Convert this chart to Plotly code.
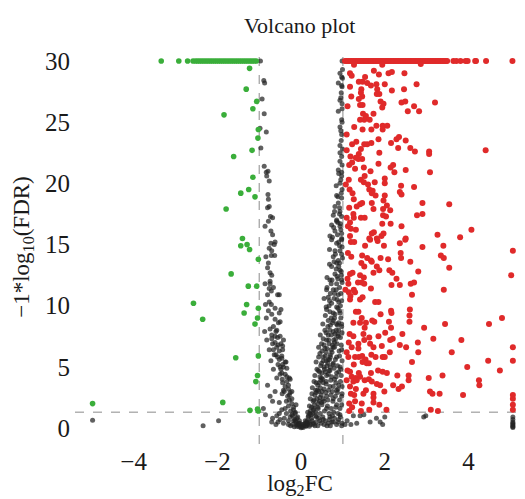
import plotly.graph_objects as go
import math

# ---------------- data ----------------
fc_cut = 1.0
fdr_cut = 0.05

# significant up (red)
red_top_x = [1.05, 1.09, 1.13, 1.17, 1.21, 1.25, 1.29, 1.33, 1.37, 1.41, 1.45, 1.49, 1.53, 1.57,
             1.61, 1.65, 1.69, 1.73, 1.77, 1.81, 1.85, 1.89, 1.93, 1.97, 2.01, 2.05, 2.09, 2.13,
             2.17, 2.21, 2.25, 2.29, 2.33, 2.37, 2.41, 2.45, 2.49, 2.53, 2.57, 2.61, 2.65, 2.69,
             2.73, 2.77, 2.81, 2.85, 2.89, 2.93, 2.97, 3.01, 3.05, 3.09, 3.13, 3.17, 3.21, 3.25,
             3.29, 3.33, 3.37, 3.41, 3.45, 3.49, 3.64, 3.71, 3.81, 3.93, 3.98, 4.16, 4.18, 4.42, 5.05]
red_x = [1.265, 1.94, 2.86, 1.17, 1.21, 1.74, 1.53, 1.86, 2.09, 2.17, 2.47, 1.17, 1.38, 1.47, 1.58,
         1.67, 1.80, 2.00, 2.76, 1.44, 1.82, 2.17, 2.46, 1.43, 1.81, 1.87, 1.20, 1.46, 1.38, 1.90,
         1.97, 2.40, 2.49, 3.20, 1.11, 1.41, 1.47, 1.94, 2.70, 2.55, 2.82, 1.48, 1.73, 1.55, 1.41,
         1.51, 1.64, 1.27, 1.47, 1.68, 1.80, 1.95, 2.06, 1.95, 1.09, 2.28, 2.34, 2.50, 1.85, 1.32,
         1.22, 1.51, 1.58, 1.68, 2.15, 2.32, 2.61, 2.72, 3.06, 3.06, 4.41, 1.09, 1.43, 1.38, 1.87,
         1.18, 1.31, 1.37, 1.46, 1.22, 1.15, 1.29, 1.50, 1.85, 2.20, 2.14, 2.50, 2.23, 1.66, 3.08,
         1.14, 1.52, 1.43, 1.50, 1.60, 1.76, 2.00, 2.00, 2.39, 2.70, 1.07, 1.16, 1.63, 1.71, 1.69,
         1.23, 2.36, 2.40, 2.00, 1.78, 1.26, 1.46, 1.41, 1.69, 1.97, 2.05, 2.90, 3.54, 1.15, 1.33,
         1.73, 1.96, 2.13, 1.25, 1.09, 1.26, 1.43, 1.52, 1.96, 2.03, 2.77, 2.90, 1.17, 1.94, 2.14,
         2.40, 1.12, 1.19, 1.31, 1.74, 1.69, 1.97, 3.26, 3.80, 4.07, 2.50, 1.17, 1.81, 1.92, 1.63,
         1.19, 1.27, 1.53, 1.65, 1.83, 1.98, 2.36, 2.49, 2.90, 3.40, 3.34, 3.41, 5.06, 1.12, 1.20,
         1.46, 1.44, 1.58, 1.67, 1.69, 1.90, 2.08, 2.38, 2.39, 2.61, 1.51, 1.81, 1.73, 1.87, 2.11,
         2.18, 2.80, 3.54, 1.17, 1.23, 1.11, 1.41, 1.50, 2.28, 1.13, 1.36, 1.45, 1.51, 1.67, 2.16,
         2.36, 2.62, 2.70, 5.02, 1.06, 1.14, 1.26, 1.18, 1.47, 1.41, 1.17, 1.29, 1.77, 1.85, 3.41,
         2.65, 1.31, 1.37, 1.90, 2.15, 2.16, 2.60, 2.59, 2.59, 1.25, 1.45, 1.41, 1.70, 1.75, 1.55,
         2.10, 3.44, 4.49, 4.80, 1.52, 2.15, 2.94, 1.16, 1.25, 1.49, 1.63, 1.85, 2.01, 2.13, 2.19,
         2.42, 3.16, 3.83, 1.14, 1.37, 1.21, 1.37, 1.51, 1.65, 1.73, 1.93, 2.36, 2.51, 2.79, 2.80,
         2.12, 3.60, 5.06, 5.06, 1.09, 1.13, 1.29, 1.38, 1.46, 1.54, 1.68, 1.78, 1.95, 2.00, 1.47,
         1.57, 1.62, 1.26, 2.65, 4.47, 3.97, 4.75, 1.11, 1.17, 1.38, 1.67, 1.84, 1.95, 2.05, 2.30,
         2.57, 2.57, 3.05, 3.38, 4.25, 4.26, 1.21, 1.31, 1.41, 1.09, 1.25, 1.33, 1.52, 1.62, 1.69,
         1.81, 1.89, 2.20, 2.33, 2.41, 3.08, 3.14, 3.31, 3.87, 1.17, 1.31, 1.55, 1.19, 1.27, 1.49,
         1.73, 1.99, 1.73, 1.73, 1.87, 1.29, 1.15, 1.45, 1.22, 1.15, 1.43, 1.63, 2.04, 3.10, 3.27,
         5.06, 5.06, 5.06, 5.06]
red_y = [29.7, 29.7, 29.75, 29.0, 28.8, 29.2, 28.7, 28.9, 29.0, 29.1, 29.0, 27.9, 28.3, 28.3, 28.2,
         28.0, 28.1, 28.1, 28.1, 27.7, 27.7, 27.6, 27.7, 27.4, 27.3, 27.3, 27.1, 27.1, 26.9, 26.7,
         26.5, 26.6, 26.7, 26.6, 26.3, 26.4, 26.4, 26.2, 26.3, 25.9, 25.9, 25.7, 25.7, 25.5, 25.2,
         25.2, 25.2, 24.6, 24.4, 24.4, 24.7, 24.7, 24.7, 24.4, 24.0, 23.6, 23.8, 23.5, 23.6, 23.4,
         23.2, 23.2, 23.2, 23.3, 23.3, 22.9, 22.9, 22.6, 22.6, 22.4, 22.7, 22.7, 22.8, 22.4, 22.5,
         22.2, 22.1, 22.0, 22.0, 21.7, 21.5, 21.2, 21.3, 21.6, 21.5, 21.3, 21.1, 20.9, 21.0, 20.9,
         20.3, 20.6, 20.3, 20.1, 19.9, 20.1, 20.4, 20.0, 19.8, 19.7, 19.9, 19.5, 19.5, 19.4, 19.2,
         19.2, 19.3, 19.1, 19.0, 19.0, 18.7, 18.4, 18.3, 18.4, 18.6, 18.2, 18.4, 18.3, 18.0, 18.1,
         17.9, 17.9, 17.8, 17.5, 17.2, 17.2, 17.2, 17.2, 17.4, 17.3, 17.4, 17.5, 16.8, 16.7, 16.7,
         16.5, 16.5, 16.3, 16.2, 16.0, 15.9, 15.9, 15.8, 15.6, 16.2, 15.5, 15.7, 15.5, 15.7, 15.5,
         15.2, 15.2, 14.9, 15.4, 15.3, 14.9, 15.1, 15.4, 14.8, 14.9, 14.1, 13.9, 14.5, 14.3, 14.0,
         14.1, 13.5, 13.9, 13.7, 13.6, 13.9, 13.8, 14.3, 13.9, 13.6, 13.2, 13.2, 12.7, 12.9, 12.9,
         12.7, 12.8, 13.1, 12.6, 12.7, 12.2, 12.5, 12.3, 12.2, 11.8, 11.9, 11.9, 11.8, 11.4, 11.7,
         11.7, 11.8, 11.9, 12.5, 11.3, 11.1, 11.3, 10.8, 10.7, 10.5, 10.5, 11.1, 10.3, 10.3, 11.3,
         10.9, 9.5, 9.5, 9.3, 9.6, 9.4, 9.7, 9.2, 8.7, 8.6, 9.0, 8.6, 8.8, 8.7, 8.6,
         8.7, 8.5, 8.5, 9.0, 8.2, 8.2, 8.2, 7.7, 7.5, 7.7, 7.4, 7.5, 7.8, 7.2, 7.3,
         7.7, 7.3, 7.2, 7.0, 6.9, 6.6, 6.5, 7.2, 6.9, 6.6, 6.7, 6.8, 6.6, 7.0, 6.2,
         6.2, 6.2, 6.6, 5.5, 6.2, 5.8, 5.8, 5.8, 5.9, 5.6, 6.0, 5.8, 5.8, 5.8, 5.4,
         5.3, 5.3, 5.2, 5.4, 5.5, 5.0, 4.7, 4.7, 4.6, 4.5, 4.5, 4.7, 4.6, 4.5, 4.3,
         4.3, 3.9, 4.1, 4.3, 3.9, 3.5, 4.2, 4.1, 4.2, 3.9, 3.8, 3.9, 3.9, 4.0, 3.8,
         3.6, 3.5, 3.5, 3.2, 3.4, 3.0, 2.8, 2.8, 2.7, 3.4, 3.2, 3.1, 2.8, 2.7, 2.8,
         2.8, 3.0, 2.5, 2.1, 1.9, 2.2, 2.0, 2.0, 1.7, 1.4, 1.4, 1.5, 1.5, 1.5, 1.4,
         2.7, 2.4, 1.9, 1.5]

# significant down (green)
green_top_x = [-3.34, -2.92, -2.71, -2.58, -2.52, -2.47, -2.42, -2.37, -2.32, -2.27, -2.22, -2.17,
               -2.12, -2.07, -2.02, -1.97, -1.92, -1.87, -1.82, -1.77, -1.72, -1.67, -1.62, -1.57,
               -1.52, -1.47, -1.42, -1.37, -1.32, -1.27, -1.22, -1.17, -1.12, -1.07]
green_x = [-1.23, -1.31, -1.06, -1.15, -1.84, -1.02, -1.03, -1.17, -1.61, -1.15, -1.44, -1.25, -1.10,
           -1.79, -1.40, -1.44, -1.29, -1.23, -1.02, -1.67, -1.26, -1.06, -2.57, -1.30, -1.02,
           -1.36, -2.35, -1.04, -1.10, -1.56, -1.02, -1.04, -1.08, -4.98, -1.87, -1.22, -1.04, -1.02]
green_y = [29.4, 27.7, 26.7, 26.1, 25.6, 24.4, 23.7, 22.7, 22.2, 20.5, 19.2, 19.5, 18.9,
           17.9, 15.5, 14.9, 15.0, 14.6, 13.8, 12.6, 11.6, 11.6, 10.2, 10.1, 9.8,
           9.4, 8.9, 9.0, 8.5, 5.75, 5.9, 4.3, 3.8, 2.0, 2.1, 1.45, 1.55, 1.4]

# not significant (grey)
grey_x = [-0.97, 0.98, -0.89, -0.87, -0.93, -0.88, -0.98, -0.83, -0.96, -0.88, -0.83, -0.79, -0.82,
          -0.76, -0.79, -0.78, -0.76, -0.73, -0.78, -0.68, -0.72,
          -0.68, -0.72, -0.64, -0.62, -0.76, -0.84, -0.71, -0.63, -0.80, -0.74, -0.70, -0.86, -0.74,
          -0.76, -0.71, -0.80, -0.56, -0.52, -0.76, -0.71, -0.85, -0.48, -0.52, -0.83, -0.62, -0.50,
          -0.87, -0.74, -0.58, -0.70, -0.62, -0.50, -0.42, -0.68, -0.55, -0.48, -0.44, -0.66, -0.64,
          -0.56, -0.46, -0.38, -0.50, -0.44, -0.34, -0.46, -0.34, -0.26, -0.44, -0.30, -0.42, -0.22,
          -0.28, -0.74, -0.22, -0.18, -0.38, -0.52, -0.14, -0.26, -0.10, -0.68, -0.85, -0.70, -0.50,
          -0.18, -0.06, -0.02, 0.02, 0.06, -0.10, -0.30, -0.22, -0.14,
          0.10, 0.17, 0.21, 0.13, 0.25, 0.29, 0.33, 0.39, 0.36, 0.45, 0.41, 0.49, 0.53, 0.45, 0.57,
          0.61, 0.49, 0.69, 0.57, 0.65, 0.77, 0.61, 0.73, 0.65, 0.77, 0.61, 0.85, 0.69, 0.81, 0.73,
          0.89, 0.77, 0.93, 0.85, 0.73, 0.97, 0.53, 0.69, 0.85, 0.97, 0.77, 0.61, 0.49, 0.41, 0.61,
          0.85, 0.93, 0.69, 0.53, 0.77, 0.98, 0.37, 0.29, 0.69, 0.85, 0.93, 0.77, 0.65, 0.85, 0.97,
          0.77, 0.89, 0.81, 0.97, 0.85, 0.77, 0.93, 0.85, 0.97, 0.89, 0.97, 0.93, 0.85, 0.97, 0.81,
          0.93, 0.97, 0.89, 0.98, 0.93, 0.98, 0.89, 0.97, 0.93, 0.97, 0.93, 0.97, 0.93, 0.89, 0.97,
          0.93, 0.85, 0.97, 0.89, 0.81, 0.93, 0.77, 0.85, 0.73, 0.93, 0.81, 0.69, 0.97,
          0.35, 0.40, 0.45, 0.50, 0.55, 0.60, 0.65, 0.70, 0.75, 0.80, 0.90, 0.95, 0.50, 0.55, 0.60,
          0.70, 0.75, 0.80, 0.90, 0.95, 0.65, 0.70, 0.80, 0.88, 0.72, 0.60, 0.40, 0.30, 0.25, 0.20,
          0.15, 0.18, 0.22, 0.28, 0.32, 0.38, 0.42, 0.46, 0.52, 0.58, 0.62, 0.68, 0.72, 0.78, 0.84,
          0.90, 0.94, 0.86, 0.80, 0.92, 0.96, 0.88, 0.84, 0.92, 0.98, 0.90, 0.95, 0.88, 0.97, 0.92,
          0.98, 0.95, 0.98, 0.96, 0.98, 0.95, 0.97, 0.99,
          -0.05, -0.08, -0.12, -0.15, -0.20, -0.25, -0.30, -0.35, -0.32, -0.28, -0.40, -0.38, -0.45,
          -0.50, -0.48, -0.55, -0.52, -0.60, -0.58, -0.62, -0.70, -0.45, -0.35, -0.40, -0.55, -0.60,
          -0.30, -0.25, 0.05, 0.08, 0.10, 0.12, -0.10, 0.00, 0.03, -0.03, 0.15, 0.20, 0.30, 0.40,
          0.45, 0.55, 0.65, 0.70, 0.85, 0.90, 0.75,
          1.05, 1.10, 1.19, 1.33, 1.41, 1.65, 1.89, 1.95, 2.00, 2.98, 2.93, 1.25, 1.50, 1.80,
          5.06, 5.06, 5.06, 5.06, 5.06, 5.06, 5.06, 5.06, -4.98, -2.34, -1.97]
grey_y = [30.0, 30.0, 28.4, 28.2, 26.9, 25.7, 24.5, 24.2, 22.9, 21.4, 20.9, 21.0, 20.6,
          20.2, 19.1, 18.7, 18.1, 17.3, 16.9, 17.2, 16.1,
          15.8, 15.1, 15.0, 15.2, 14.7, 14.0, 14.1, 14.1, 13.1, 12.7, 12.5, 11.8, 11.8,
          11.4, 11.2, 10.9, 10.9, 10.9, 10.3, 10.1, 10.1, 9.7, 9.4, 9.0, 8.9, 8.7,
          7.9, 8.1, 8.0, 7.6, 7.5, 7.5, 7.2, 6.9, 6.8, 6.9, 6.4, 6.4, 6.0,
          5.8, 5.7, 5.4, 5.0, 5.2, 4.9, 4.5, 4.2, 4.0, 3.7, 3.5, 3.1, 3.0,
          2.7, 2.6, 2.0, 1.7, 1.6, 1.2, 1.3, 0.9, 0.8, 0.8, 1.1, 0.5, 0.7,
          0.6, 0.4, 0.2, 0.1, 0.3, 0.3, 0.6, 1.1, 0.6,
          0.6, 0.9, 1.2, 0.5, 1.7, 2.2, 2.7, 3.1, 3.7, 4.2, 4.7, 5.3, 5.8, 6.1, 6.5,
          7.2, 6.9, 8.0, 8.0, 8.8, 9.4, 9.7, 10.2, 10.7, 11.3, 11.3, 11.8, 12.1, 12.6, 13.2,
          13.7, 14.0, 14.5, 15.1, 15.4, 15.9, 3.7, 3.4, 3.1, 2.6, 2.4, 2.6, 2.1, 1.6, 1.6,
          1.9, 1.1, 0.9, 0.7, 0.5, 0.4, 0.9, 0.3, 4.7, 4.5, 5.0, 5.3, 5.6, 5.8, 6.4,
          6.6, 7.5, 7.7, 8.3, 8.5, 8.8, 9.4, 9.9, 10.4, 10.9, 12.1, 12.9, 13.5, 14.2, 14.5,
          29.0, 28.7, 28.2, 27.9, 26.8, 26.5, 25.9, 25.2, 24.6, 24.0, 23.1, 22.2, 21.8, 21.1, 20.6,
          20.0, 19.0, 18.8, 18.4, 18.1, 17.7, 17.4, 17.0, 16.6, 16.5, 16.1, 15.7, 15.5,
          1.0, 2.0, 2.5, 3.0, 2.2, 3.8, 4.4, 5.0, 3.0, 4.0, 3.5, 4.8, 4.5, 5.0, 5.5,
          6.0, 6.8, 7.0, 8.0, 9.0, 7.6, 8.4, 9.0, 9.8, 9.0, 6.2, 3.5, 1.5, 0.8, 0.5,
          0.3, 1.0, 1.4, 1.2, 1.9, 2.4, 3.0, 3.3, 4.0, 4.6, 5.1, 5.6, 6.4, 7.2, 8.0,
          8.6, 10.0, 10.5, 11.0, 11.5, 12.5, 12.2, 13.0, 13.5, 14.8, 15.2, 16.2, 16.8, 17.3, 18.0,
          19.5, 20.3, 21.5, 23.5, 25.0, 27.0, 28.0, 29.3,
          0.1, 0.3, 0.5, 0.7, 1.0, 1.4, 1.8, 2.2, 2.6, 2.3, 3.0, 3.4, 4.0,
          4.4, 4.8, 5.2, 5.6, 6.0, 6.6, 7.0, 7.3, 2.8, 1.2, 0.8, 0.5, 0.3,
          0.3, 0.2, 0.05, 0.2, 0.4, 0.15, 0.15, 0.02, 0.3, 0.4, 0.6, 0.15, 0.4, 0.2,
          0.6, 0.3, 0.4, 0.2, 0.3, 0.7, 1.0,
          0.3, 0.6, 0.3, 0.4, 1.0, 0.5, 0.5, 0.3, 0.9, 1.0, 0.9, 1.0, 1.1, 0.8,
          0.9, 0.7, 0.5, 0.4, 0.3, 0.2, 0.1, 0.05, 0.65, 0.2, 0.6]

# extra grey points read from the dense body of the "V"
grey2_x = [0.12, 0.16, 0.22, 0.26, 0.33, 0.36, 0.42, 0.48, 0.52, 0.58, 0.62, 0.68, 0.74, 0.80, 0.88,
           0.94, 0.97, 0.16, 0.20, 0.24, 0.30, 0.35, 0.40, 0.46, 0.50, 0.56, 0.63, 0.67, 0.72, 0.78,
           0.83, 0.88, 0.93, 0.97, 0.22, 0.26, 0.31, 0.36, 0.44, 0.48, 0.53, 0.59, 0.64, 0.71, 0.76,
           0.82, 0.87, 0.92, 0.98, 0.27, 0.31, 0.35, 0.43, 0.47, 0.55, 0.60, 0.66, 0.71, 0.77, 0.83,
           0.88, 0.94, 0.98, 0.33, 0.38, 0.44, 0.49, 0.56, 0.61, 0.67, 0.73, 0.79, 0.84, 0.90, 0.96,
           0.36, 0.42, 0.47, 0.53, 0.58, 0.64, 0.70, 0.76, 0.82, 0.87, 0.92, 0.98, 0.42, 0.50, 0.55,
           0.62, 0.67, 0.74, 0.80, 0.86, 0.91, 0.96, 0.46, 0.53, 0.60, 0.66, 0.72, 0.77, 0.83, 0.88,
           0.94, 0.98, 0.52, 0.58, 0.64, 0.69, 0.75, 0.81, 0.87, 0.92, 0.97, 0.60, 0.67, 0.55, 0.62,
           0.68, 0.72, 0.79, 0.84, 0.90, 0.95, 0.98, 0.70, 0.62, 0.68, 0.74, 0.79, 0.86, 0.90, 0.96,
           0.99, 0.68, 0.75, 0.82, 0.87, 0.92, 0.97, 0.78, 0.85, 0.94, 0.80, 0.88, 0.92, 0.96, 0.84,
           0.90, 0.97, 0.93, 0.99, 0.95, 0.98, 0.96, 0.99,
           -0.04, -0.08, -0.14, -0.18, -0.12, -0.22, -0.26, -0.30, -0.34, -0.28, -0.38, -0.42, -0.36,
           -0.46, -0.52, -0.44, -0.56, -0.60, -0.66, -0.54, -0.70, -0.62, -0.78, -0.58, -0.66, -0.72,
           -0.62, -0.52, -0.46, -0.68, -0.80, -0.76, -0.82, -0.90, -0.58, -0.42, -0.20, -0.16, -0.74,
           -0.66, -0.78, -0.70, -0.86, -0.80]
grey2_y = [0.2, 0.4, 0.3, 0.6, 0.2, 0.5, 0.8, 0.4, 0.9, 0.6, 0.2, 0.7, 0.5, 0.8, 0.5,
           0.9, 0.2, 1.3, 1.8, 1.1, 1.6, 1.3, 1.7, 1.2, 1.9, 1.4, 1.8, 1.2, 1.6, 1.3,
           1.7, 1.2, 1.6, 1.9, 2.4, 2.8, 2.3, 2.9, 2.2, 2.7, 2.4, 2.9, 2.3, 2.7, 2.2,
           2.6, 2.9, 2.3, 2.8, 3.3, 3.8, 3.1, 3.7, 3.9, 3.2, 3.6, 3.1, 3.9, 3.4, 3.7,
           3.2, 3.8, 3.4, 4.3, 4.8, 4.6, 4.1, 4.8, 4.3, 4.7, 4.2, 4.9, 4.2, 4.6, 4.3,
           5.4, 5.8, 5.1, 5.5, 5.9, 5.3, 5.8, 5.2, 5.6, 5.1, 5.9, 5.5, 6.6, 6.3, 6.8,
           6.5, 6.9, 6.2, 6.6, 6.9, 6.3, 6.8, 7.6, 7.3, 7.8, 7.2, 7.6, 7.9, 7.3, 7.7,
           7.4, 7.8, 8.5, 9.2, 8.3, 9.5, 8.6, 9.3, 8.4, 9.6, 8.5, 9.9, 10.0, 10.6, 11.5,
           10.4, 11.8, 10.6, 11.3, 10.3, 11.0, 11.9, 11.0, 12.3, 13.4, 12.1, 13.6, 12.4, 13.2, 12.8,
           13.9, 14.6, 15.6, 14.2, 15.8, 14.9, 15.4, 16.4, 16.9, 16.7, 17.7, 18.9, 17.5, 19.2, 19.8,
           20.8, 20.9, 22.5, 22.8, 24.3, 26.1, 27.4, 28.6,
           0.6, 0.9, 1.2, 1.5, 1.9, 2.4, 2.9, 3.2, 3.8, 4.1, 4.4, 5.0, 5.4,
           5.9, 6.3, 6.7, 7.4, 7.9, 8.3, 8.6, 9.3, 9.8, 9.6, 4.1, 4.8, 5.5,
           3.0, 2.1, 1.5, 2.2, 3.5, 6.4, 7.2, 1.6, 1.0, 0.4, 0.3, 0.1, 12.0,
           11.5, 13.5, 14.5, 16.5, 18.0]

x_tick_vals = [-4, -2, 0, 2, 4]
x_tick_text = ["\u22124", "\u22122", "0", "2", "4"]
y_tick_vals = [0, 5, 10, 15, 20, 25, 30]
y_tick_text = ["0", "5", "10", "15", "20", "25", "30"]

title_text = "Volcano plot"
x_title = "log<sub>2</sub>FC"
y_title = "\u22121*log<sub>10</sub>(FDR)"

# ---------------- figure ----------------
FONT = "Liberation Serif"
fig = go.Figure()

fig.add_trace(go.Scatter(
    x=grey_x + grey2_x, y=grey_y + grey2_y, mode="markers",
    marker=dict(size=5, color="rgba(35,35,35,0.72)", line=dict(width=0)),
    showlegend=False, hoverinfo="skip"))
fig.add_trace(go.Scatter(
    x=green_top_x + green_x, y=[30.0] * len(green_top_x) + green_y, mode="markers",
    marker=dict(size=5.6, color="#3aae3a", line=dict(width=0)),
    showlegend=False, hoverinfo="skip"))
fig.add_trace(go.Scatter(
    x=red_top_x + red_x, y=[30.0] * len(red_top_x) + red_y, mode="markers",
    marker=dict(size=6, color="#e02a2a", line=dict(width=0)),
    showlegend=False, hoverinfo="skip"))

thr_y = -math.log10(fdr_cut)
dash_style = dict(color="#8a8a8a", width=1, dash="dash")
fig.add_shape(type="line", xref="paper", yref="y", x0=0, x1=1, y0=thr_y, y1=thr_y,
              line=dash_style, layer="below")
for xv in (-fc_cut, fc_cut):
    fig.add_shape(type="line", xref="x", yref="paper", x0=xv, x1=xv, y0=0, y1=1,
                  line=dash_style, layer="below")

fig.update_layout(
    width=525, height=499,
    margin=dict(l=75, r=0, t=50, b=55),
    paper_bgcolor="white", plot_bgcolor="white",
    font=dict(family=FONT, size=23, color="#1a1a1a"),
    title=dict(text=title_text, x=0.571, xanchor="center", y=0.95, yanchor="middle",
               font=dict(family=FONT, size=22, color="#1a1a1a")),
    xaxis=dict(range=[-5.4, 5.35], tickvals=x_tick_vals, ticktext=x_tick_text,
               showgrid=False, zeroline=False, showline=False, ticks="",
               title=dict(text=x_title, standoff=2, font=dict(family=FONT, size=23)),
               tickfont=dict(family=FONT, size=25)),
    yaxis=dict(range=[-1.3, 30.9], tickvals=y_tick_vals, ticktext=y_tick_text,
               showgrid=False, zeroline=False, showline=False, ticks="",
               ticklabelstandoff=4,
               title=dict(text=y_title, standoff=8, font=dict(family=FONT, size=23)),
               tickfont=dict(family=FONT, size=25)),
)

fig.write_html("out.html")
